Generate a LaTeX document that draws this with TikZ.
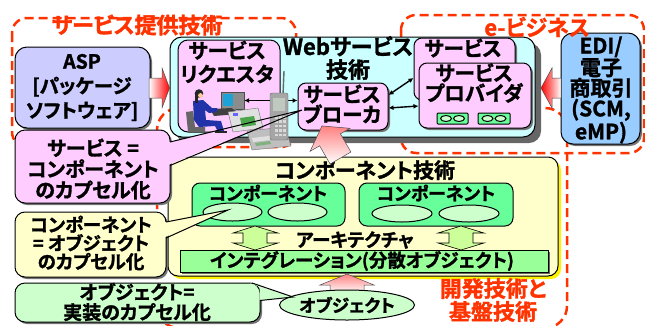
\documentclass[tikz,border=0pt]{standalone}
\usepackage{fontspec}
\newfontfamily\jpb{Noto Sans CJK JP Bold}[RawFeature={+palt;embolden=1.5}]
\usetikzlibrary{shapes.geometric,arrows.meta,shadows,calc}
\definecolor{redln}{HTML}{FF3300}
\definecolor{pinkc}{HTML}{FFCCFF}
\definecolor{lavc}{HTML}{CCCCFF}
\definecolor{cyanc}{HTML}{CCFFFF}
\definecolor{edic}{HTML}{99CCFF}
\definecolor{yelc}{HTML}{FFFFCC}
\definecolor{compg}{HTML}{66FF99}
\definecolor{ovalg}{HTML}{CCFFCC}
\definecolor{integc}{HTML}{99FF99}
\definecolor{dblc}{HTML}{CCFF99}
\definecolor{pinkarr}{HTML}{FF8080}
\definecolor{suit}{HTML}{2233AA}
\begin{document}
\begin{tikzpicture}[x=1pt,y=-1pt,
  dashbox/.style={draw=redln, line width=2.5pt, dash pattern=on 9pt off 5pt, rounded corners=15pt},
  rbox/.style={draw=black, line width=1pt, rounded corners=#1, inner sep=0pt},
  rbox/.default=8pt,
  sbox/.style={drop shadow={shadow xshift=2pt, shadow yshift=-2pt, fill=black!55, opacity=1}},
  oval/.style={ellipse, draw=black, line width=1pt, fill=ovalg, inner sep=0pt},
  lbl/.style 2 args={inner sep=0pt, align=center, font=\jpb\fontsize{#1}{#2}\selectfont},
  dblarrow/.style={fill=dblc, draw=black, line width=0.6pt},
  link/.style={line width=1.4pt, {Latex[length=5pt,width=5pt]}-{Latex[length=5pt,width=5pt]}},
  tailedge/.style={draw=black, line width=1pt},
]
\useasboundingbox (0,0) rectangle (645,325);

% dashed regions
\draw[dashbox, rounded corners=22pt] (157,108) rectangle (567,328);
\draw[dashbox] (12,18) rectangle (296,147);
\draw[dashbox] (401,15) rectangle (644,153);

% web services technology
\node[rbox=12pt, fill=cyanc, minimum width=365, minimum height=100,
  drop shadow={shadow xshift=6pt, shadow yshift=-6pt, fill=black!60, opacity=1}] (web) at (352.5,87) {};
\node[lbl={22}{23}] (webt) at (348,58) {Webサービス\\技術};

\node[rbox=10pt, fill=pinkc, minimum width=102, minimum height=92] (req) at (229,86) {};
\node[lbl={20.5}{23.5}] (reqt) at (227,62) {サービス\\リクエスタ};

\node[rbox=8pt, fill=pinkc, sbox, minimum width=90, minimum height=47] (broker) at (343,106.5) {};
\node[lbl={20.5}{19}] (brokert) at (342,104) {サービス\\ブローカ};

\node[rbox=8pt, fill=pinkc, sbox, minimum width=101, minimum height=62] (provback) at (464.5,69) {};
\node[lbl={20.5}{22}] (provbackt) at (463,48) {サービス};
\node[rbox=8pt, fill=pinkc, sbox, minimum width=112, minimum height=65] (provfront) at (475,95.5) {};
\node[lbl={20.5}{20}] (provfrontt) at (474,83) {サービス\\プロバイダ};

\node[rbox=1pt, fill=compg, minimum width=31, minimum height=11] (pa) at (452.5,118.5) {};
\node[oval, minimum width=11, minimum height=6] (pa1) at (446,118.5) {};
\node[oval, minimum width=11, minimum height=6] (pa2) at (459,118.5) {};
\node[rbox=1pt, fill=compg, minimum width=32, minimum height=11] (pb) at (494,118.5) {};
\node[oval, minimum width=11, minimum height=6] (pb1) at (487.5,118.5) {};
\node[oval, minimum width=11, minimum height=6] (pb2) at (500.5,118.5) {};

% broker links
\draw[link] ([yshift=11.5pt]broker.east) -- ([yshift=-9pt]provback.west);
\draw[link] ([yshift=-1.5pt]broker.east) -- ([yshift=-10.5pt]provfront.west);

% ASP and EDI
\node[rbox=12pt, fill=lavc, sbox, minimum width=135, minimum height=81] (asp) at (82.5,87.5) {};
\node[lbl={19.5}{24.5}] (aspt) at (82,87.5) {ASP\\{[}パッケージ\\ソフトウェア{]}};
\node[rbox=12pt, fill=edic, sbox, minimum width=79, minimum height=111] (edi) at (600.5,88.5) {};
\node[lbl={21}{20.5}] (edit) at (601,90) {EDI/\\電子\\商取引\\(SCM,\\eMP)};

\shadedraw[left color=white, right color=red, draw=black!70, line width=0.5pt]
  (149,78) -- (162,78) -- (162,68) -- (169.5,88) -- (162,108) -- (162,98) -- (149,98) -- cycle;
\shadedraw[left color=red, right color=white, draw=black!70, line width=0.5pt]
  (541,88) -- (552,68) -- (552,78) -- (561,78) -- (561,98) -- (552,98) -- (552,108) -- cycle;

% component technology
\node[rbox=10pt, fill=yelc, minimum width=390, minimum height=119,
  drop shadow={shadow xshift=3pt, shadow yshift=-3pt, fill=yellow, opacity=1}] (comp) at (363,216.5) {};
\node[lbl={21}{22}] (compt) at (365,170) {コンポーネント技術};

\node[rbox=8pt, fill=compg, minimum width=153, minimum height=43] (c1) at (268.5,204.5) {};
\node[lbl={18}{18}] (c1t) at (268,193) {コンポーネント};
\node[oval, minimum width=59, minimum height=18] (o1) at (232.5,212) {};
\node[oval, minimum width=59, minimum height=18] (o2) at (297.5,212) {};
\node[rbox=8pt, fill=compg, minimum width=154, minimum height=43] (c2) at (436,204.5) {};
\node[lbl={18}{18}] (c2t) at (436,193) {コンポーネント};
\node[oval, minimum width=60, minimum height=17] (o3) at (402,213.5) {};
\node[oval, minimum width=60, minimum height=17] (o4) at (469,213.5) {};

\draw[dblarrow] (255,226) -- (278,233) -- (267,233) -- (267,243) -- (278,243) -- (255,250)
  -- (233,243) -- (243,243) -- (243,233) -- (233,233) -- cycle;
\draw[dblarrow] (461,226) -- (484,233) -- (473,233) -- (473,243) -- (484,243) -- (461,250)
  -- (438,243) -- (449,243) -- (449,233) -- (438,233) -- cycle;
\node[lbl={18.5}{18}] (archt) at (355,240) {アーキテクチャ};

\node[draw=black, line width=1pt, fill=integc, inner sep=0pt, minimum width=368, minimum height=22,
  drop shadow={shadow xshift=1.5pt, shadow yshift=-1.5pt, fill=black!60, opacity=1}] (integ) at (364,261) {};
\node[lbl={18.5}{18}] (integt) at (362,261) {インテグレーション(分散オブジェクト)};

% block arrows into the layers
\shadedraw[top color=pinkarr, bottom color=white, draw=black!70, line width=0.5pt]
  (347,274) -- (374,285) -- (364,285) -- (364,293) -- (330,293) -- (330,285) -- (320,285) -- cycle;
\begin{scope}[shift={(333,145)}, rotate=30]
  \shadedraw[top color=pinkarr, bottom color=white, draw=black!70, line width=0.5pt]
    (0,-22) -- (23,-6) -- (12,-6) -- (12,15) -- (-12,15) -- (-12,-6) -- (-23,-6) -- cycle;
\end{scope}

\node[oval, minimum width=135, minimum height=30] (obj) at (347,305) {};
\node[lbl={17.5}{18}] (objt) at (347,305) {オブジェクト};

% callouts
\coordinate (tip1) at (302,110);
\coordinate (tip2) at (228,210);
\coordinate (tip3) at (293,297);

\node[rbox=10pt, fill=pinkc, sbox, minimum width=155, minimum height=73] (cb1) at (92.5,166.5) {};
\fill[pinkc] (168,142.5) -- (tip1) -- (168,165) -- cycle;
\node[lbl={20}{21}] (cb1t) at (93,169) {サービス =\\コンポーネント\\のカプセル化};

\node[rbox=10pt, fill=yelc, sbox, minimum width=151, minimum height=65] (cb2) at (90.5,244.5) {};
\fill[yelc] (164,222.5) -- (tip2) -- (164,237.5) -- cycle;
\draw[tailedge] (166,222) -- (tip2) -- (166,238);
\node[lbl={18.5}{18.5}] (cb2t) at (91,243) {コンポーネント\\= オブジェクト\\のカプセル化};

\node[rbox=10pt, fill=ovalg, sbox, minimum width=245, minimum height=39] (cb3) at (137.5,302.5) {};
\fill[ovalg] (250,283.6) -- (tip3) -- (259.5,300.5) -- (259.5,283.6) -- cycle;
\draw[tailedge] (252,283) -- (tip3) -- (260,300.5);
\node[lbl={19}{20}] (cb3t) at (137,302) {オブジェクト=\\実装のカプセル化};

% requester workplace
\node[fill=black!45, draw=black!70, line width=0.4pt, inner sep=0pt, minimum width=23, minimum height=17] (pc) at (232.5,100.5) {};
\fill[cyan!75!teal] (223,94) rectangle (233,106);
\fill[black!55] (229,109) rectangle (236,111);
\draw[link] (pc.east) -- (pc.east -| broker.west);

\fill[black!60] (186,112) -- (193,111) -- (195,127) -- (205,127) -- (205,132) -- (188,132) -- cycle;
\fill[black!75] (210,109) -- (232,108) -- (238,114) -- (214,116) -- cycle;
\fill[suit] (193,101) -- (203,100) -- (212,108) -- (217,108) -- (217,112) -- (209,113) -- (205,110)
  -- (206,120) -- (221,121) -- (224,131) -- (218,132) -- (215,126) -- (199,127) -- (194,120) -- cycle;
\fill[black!85] (199,93.5) circle (4.3);
\fill[black!85] (194.5,93) rectangle (198,103);
\fill[orange!40!white] (200.5,95.5) circle (2.4);
\fill[black!85] (215,131) rectangle (227,133);

\filldraw[fill=black!12, draw=black!55, line width=0.4pt] (228,112) -- (258,108) -- (263,128) -- (233,132) -- cycle;
\fill[green!50!black!70] (240,118) -- (254,116) -- (256,125) -- (242,127) -- cycle;
\fill[blue!60] (233,113) rectangle (238,116);
\filldraw[fill=black!25, draw=black!55, line width=0.4pt] (247,131) -- (285,127) -- (291,146) -- (252,150) -- cycle;
\fill[black!12] (252,138) -- (286,134) -- (287,138) -- (253,142) -- cycle;
\fill[green!40!black!50] (255,143) -- (270,141) -- (271,144) -- (256,146) -- cycle;

\draw[black!60, line width=1.4pt] (283,95) -- (284,71);
\filldraw[fill=black!35, draw=black!60, line width=0.4pt, rounded corners=2pt] (270,93) rectangle (288,140);
\fill[green!15!black!25] (273,98) rectangle (285,111);
\foreach \r in {0,...,4} {
  \foreach \c in {0,1,2} {
    \fill[white!85!black] (274.5+\c*4.3,116+\r*4.4) rectangle ++(3,2.6);
  }
}

\draw[tailedge] (170,142) -- (tip1) -- (170,165.5);

% region titles
\node[lbl={22}{25}, text=redln] (title1) at (137,25) {サービス提供技術};
\node[lbl={22}{25}, text=redln] (title2) at (537,27) {e-ビジネス};
\node[lbl={22}{23}, text=redln] (title3) at (493,300) {開発技術と\\基盤技術};
\end{tikzpicture}
\end{document}
